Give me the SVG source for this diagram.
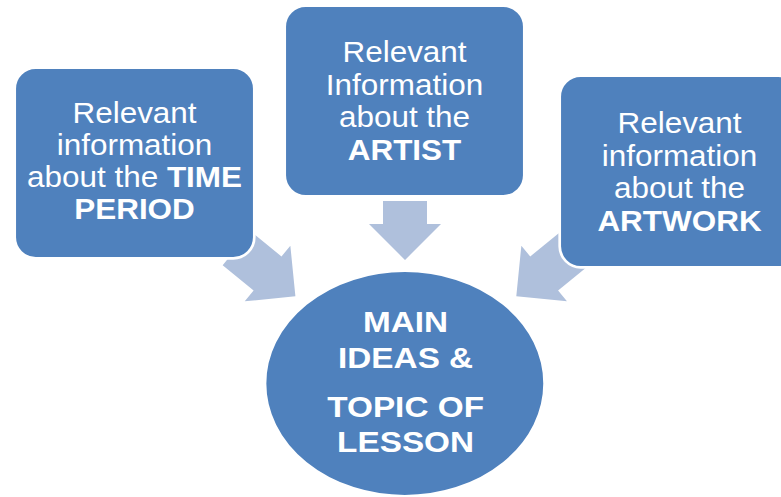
<svg xmlns="http://www.w3.org/2000/svg" width="781" height="497" viewBox="0 0 781 497">
<style>
.box{fill:#4F81BD;stroke:#FFFFFF;stroke-width:2.7}
.arrow{fill:#AFC0DC;stroke:none}
.t{font-family:"Liberation Sans",Arial,sans-serif;fill:#FFFFFF;text-anchor:middle;font-size:29px}
.b{font-weight:bold}
</style>
<rect width="781" height="497" fill="#FFFFFF"/>
<g id="connectors">
<polygon class="arrow" points="-76,-22 -36,-22 -36,-36 0,0 -36,36 -36,22 -76,22" transform="translate(295.4,296.3) rotate(39.3)"/>
<polygon class="arrow" points="-59,-22 -36,-22 -36,-36 0,0 -36,36 -36,22 -59,22" transform="translate(405,260) rotate(90)"/>
<polygon class="arrow" points="-76,-22 -36,-22 -36,-36 0,0 -36,36 -36,22 -76,22" transform="translate(516.3,296.3) rotate(140.7)"/>
</g>
<g id="time-period">
<rect class="box" x="14.7" y="67.7" width="239.6" height="190.6" rx="21"/>
<text class="t" transform="matrix(1.085,0,0,1,134.5,0)"><tspan x="0" y="123.5">Relevant</tspan><tspan x="0" y="155.5">information</tspan><tspan x="0" y="187.5">about the <tspan class="b">TIME</tspan></tspan><tspan class="b" x="0" y="219.5">PERIOD</tspan></text>
</g>
<g id="artist">
<rect class="box" x="284.7" y="5.7" width="239.6" height="190.6" rx="21"/>
<text class="t" transform="matrix(1.085,0,0,1,404.5,0)"><tspan x="0" y="62.5">Relevant</tspan><tspan x="0" y="95">Information</tspan><tspan x="0" y="127.5">about the</tspan><tspan class="b" x="0" y="160">ARTIST</tspan></text>
</g>
<g id="artwork">
<rect class="box" x="559.7" y="75.7" width="239.6" height="191.6" rx="21"/>
<text class="t" transform="matrix(1.085,0,0,1,679.5,0)"><tspan x="0" y="133.5">Relevant</tspan><tspan x="0" y="166">information</tspan><tspan x="0" y="198.5">about the</tspan><tspan class="b" x="0" y="231">ARTWORK</tspan></text>
</g>
<g id="main-ideas">
<ellipse class="box" cx="404.8" cy="383.5" rx="139.8" ry="112.8"/>
<text class="t b" style="font-size:29.5px" transform="matrix(1.13,0,0,1,405.6,0)"><tspan x="0" y="331.7">MAIN</tspan><tspan x="0" y="367.7">IDEAS &amp;</tspan><tspan x="0" y="416.7">TOPIC OF</tspan><tspan x="0" y="451.7">LESSON</tspan></text>
</g>
</svg>
